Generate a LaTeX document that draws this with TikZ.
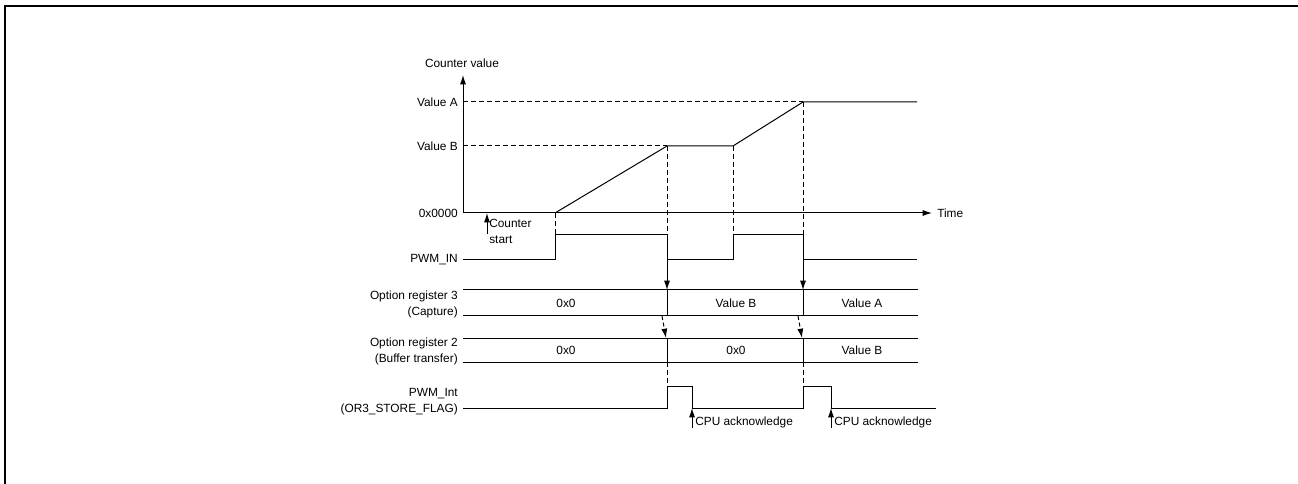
\documentclass[tikz,border=0pt]{standalone}
\usepackage{fontspec}
\setmainfont{Liberation Sans}
\usetikzlibrary{arrows.meta}
\begin{document}
\begin{tikzpicture}[x=0.75pt,y=-0.75pt,
  wave/.style={line width=0.75pt,line join=miter},
  guide/.style={line width=0.75pt,dash pattern=on 3.6pt off 2.4pt},
  tip/.style={line width=0.75pt,-{Latex[length=7pt,width=4.5pt]}},
  dtip/.style={line width=0.75pt,dash pattern=on 3pt off 2pt,-{Latex[length=7pt,width=4.5pt]}},
  lbl/.style={font=\fontsize{8.9}{10.6}\selectfont,inner sep=0pt},
  sig/.style={lbl,anchor=east,align=right},
  val/.style={lbl,anchor=center}]
\useasboundingbox (0,0) rectangle (1298,484);
% page frame
\draw[line width=1.8pt] (5,484) -- (5,6) -- (1298,6);

% ---- counter axes ----
\coordinate (O) at (463,213);
\coordinate (ytop) at (463,75);
\coordinate (xend) at (932,213);
\draw[tip] (O) -- (ytop);
\draw[tip] (O) -- (xend);
\node[lbl] (cv) at (462,63) {Counter value};
\node[lbl,anchor=west] (time) at (937,213) {Time};
\node[sig] (lA) at (458,102) {Value A};
\node[sig] (lB) at (458,146) {Value B};
\node[sig] (l0) at (458,213) {0x0000};

% counter trace
\coordinate (c0) at (555,213);
\coordinate (c1) at (667,146);
\coordinate (c2) at (733,146);
\coordinate (c3) at (803,102);
\coordinate (c4) at (917,102);
\draw[wave] (c0) -- (c1) -- (c2) -- (c3) -- (c4);

% level guides
\coordinate (aA) at (463,102);
\coordinate (aB) at (463,146);
\draw[guide] (aA) -- (c3);
\draw[guide] (aB) -- (c1);

% counter start marker
\coordinate (cs0) at (487,234);
\coordinate (cs1) at (487,213);
\draw[tip] (cs0) -- (cs1);
\node[lbl,anchor=north west,align=left] (cst) at (489,219) {Counter\\[1.5pt]start};

% ---- PWM_IN ----
\coordinate (p0) at (463,260);
\coordinate (p1) at (555,260);
\coordinate (p2) at (555,235);
\coordinate (p3) at (667,235);
\coordinate (p4) at (667,260);
\coordinate (p5) at (733,260);
\coordinate (p6) at (733,235);
\coordinate (p7) at (803,235);
\coordinate (p8) at (803,260);
\coordinate (p9) at (917,260);
\draw[wave] (p0) -- (p1) -- (p2) -- (p3) -- (p4) -- (p5) -- (p6) -- (p7) -- (p8) -- (p9);
\node[sig] (lpin) at (458,260) {PWM\_IN};

% edge guides
\draw[guide] (c0) -- (p2);
\draw[guide] (c1) -- (p3);
\draw[guide] (c2) -- (p6);
\draw[guide] (c3) -- (p7);

% ---- Option register 3 ----
\coordinate (r3a) at (463,290);
\coordinate (r3b) at (918,290);
\coordinate (r3c) at (463,316);
\coordinate (r3d) at (918,316);
\coordinate (r3s1) at (667,290);
\coordinate (r3e1) at (667,316);
\coordinate (r3s2) at (803,290);
\coordinate (r3e2) at (803,316);
\draw[wave] (r3a) -- (r3b) (r3c) -- (r3d) (r3s1) -- (r3e1) (r3s2) -- (r3e2);
\node[val] (r3v1) at (566,303) {0x0};
\node[val] (r3v2) at (736,303) {Value B};
\node[val] (r3v3) at (862,303) {Value A};
\node[sig] (lr3) at (458,304) {Option register 3\\[1.5pt](Capture)};

% capture on falling edge
\draw[tip] (p4) -- (r3s1);
\draw[tip] (p8) -- (r3s2);

% ---- Option register 2 ----
\coordinate (r2a) at (463,338);
\coordinate (r2b) at (918,338);
\coordinate (r2c) at (463,362);
\coordinate (r2d) at (918,362);
\coordinate (r2s1) at (667,338);
\coordinate (r2e1) at (667,362);
\coordinate (r2s2) at (803,338);
\coordinate (r2e2) at (803,362);
\draw[wave] (r2a) -- (r2b) (r2c) -- (r2d) (r2s1) -- (r2e1) (r2s2) -- (r2e2);
\node[val] (r2v1) at (566,350) {0x0};
\node[val] (r2v2) at (736,350) {0x0};
\node[val] (r2v3) at (862,350) {Value B};
\node[sig] (lr2) at (458,351) {Option register 2\\[1.5pt](Buffer transfer)};

% buffer transfer
\coordinate (t1) at (662,316);
\coordinate (t2) at (798,316);
\coordinate (u1) at (666,338);
\coordinate (u2) at (802,338);
\draw[dtip] (t1) -- (u1);
\draw[dtip] (t2) -- (u2);

% ---- PWM_Int ----
\coordinate (i0) at (463,408);
\coordinate (i1) at (667,408);
\coordinate (i2) at (667,386);
\coordinate (i3) at (692,386);
\coordinate (i4) at (692,408);
\coordinate (i5) at (803,408);
\coordinate (i6) at (803,386);
\coordinate (i7) at (831,386);
\coordinate (i8) at (831,408);
\coordinate (i9) at (936,408);
\draw[wave] (i0) -- (i1) -- (i2) -- (i3) -- (i4) -- (i5) -- (i6) -- (i7) -- (i8) -- (i9);
\node[sig] (lint) at (458,402) {PWM\_Int\\[1.5pt](OR3\_STORE\_FLAG)};
\draw[guide] (r2e1) -- (i2);
\draw[guide] (r2e2) -- (i6);

% CPU acknowledge markers
\coordinate (k1) at (692,428);
\coordinate (k2) at (831,428);
\draw[tip] (k1) -- (i4);
\draw[tip] (k2) -- (i8);
\node[lbl,anchor=west] (ack1) at (695,422) {CPU acknowledge};
\node[lbl,anchor=west] (ack2) at (834,422) {CPU acknowledge};
\end{tikzpicture}
\end{document}
